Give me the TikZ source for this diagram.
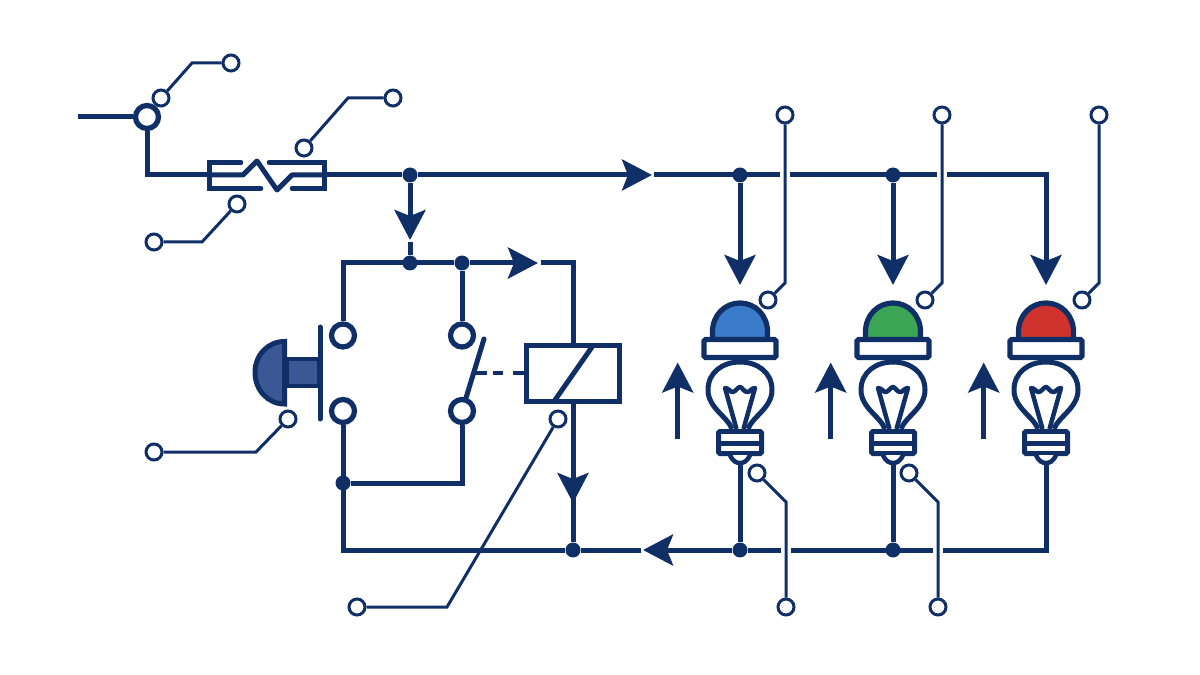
\documentclass[tikz,border=0pt]{standalone}
\usepackage{tikz}
\usetikzlibrary{arrows.meta}

\definecolor{navy}{HTML}{0F2F66}
\definecolor{knob}{HTML}{3A5796}
\definecolor{domeblue}{HTML}{3A7BCA}
\definecolor{domegreen}{HTML}{3AA655}
\definecolor{domered}{HTML}{D0332D}

\tikzset{
    wire/.style={navy, line width=0.1cm},
    leader/.style={navy, line width=0.06cm},
    flow/.style={wire, -{Stealth[length=0.6cm, width=0.62cm, inset=0.12cm]}},
    term/.style={circle, draw=navy, fill=white, line width=0.06cm, inner sep=0, minimum size=0.32cm},
    contact/.style={circle, draw=navy, fill=white, line width=0.105cm, inner sep=0, minimum size=0.46cm},
    dot/.style={circle, fill=navy, inner sep=0, minimum size=0.3cm},
    lamp/.pic={
        % dome and collar
        \draw[navy, line width=0.105cm, fill=#1] (-27.5,38) -- (-27.5,32) .. controls (-27.5,15) and (-15,3) .. (0,3)
            .. controls (15,3) and (27.5,15) .. (27.5,32) -- (27.5,38);
        \draw[navy, line width=0.105cm, fill=white, rounded corners=0.03cm] (-36,39.5) rectangle (36,57.5);
        % glass
        \draw[navy, line width=0.1cm, fill=white] (-8,129) .. controls (-12,117) and (-32,108) .. (-32,90)
            .. controls (-32,72) and (-17,62) .. (0,62) .. controls (17,62) and (32,72) .. (32,90)
            .. controls (32,108) and (12,117) .. (8,129);
        \draw[navy, line width=0.09cm, line join=round] (-3.5,129) -- (-15,88) .. controls (-11,88) and (-9,93) .. (-7,92)
            .. controls (-4,91) and (-2,87) .. (0,87) .. controls (2,87) and (4,92) .. (7,92)
            .. controls (9,93) and (11,88) .. (15,88) -- (3.5,129);
        % screw base
        \draw[navy, line width=0.1cm, fill=white, rounded corners=0.03cm] (-21.5,131.5) rectangle (21.5,153.5);
        \draw[navy, line width=0.1cm] (-21.5,143) -- (21.5,143);
        \draw[navy, line width=0.09cm, fill=white] (-10,155) .. controls (-7,162) and (-3,163) .. (0,163)
            .. controls (3,163) and (7,162) .. (10,155);
        % arrow next to the lamp
        \coordinate (-from) at (-62.3,139);
        \coordinate (-to) at (-62.3,62.5);
        \draw[flow] (-from) -- (-to);
        \coordinate (-in) at (0,-15);
        \coordinate (-out) at (0,163);
    }
}

\begin{document}
\begin{tikzpicture}[x=0.02cm, y=-0.02cm]
    \useasboundingbox (0,0) rectangle (1200,675);

    % Feed and fuse
    \coordinate (feed) at (78,117);
    \node[contact] (ring) at (147,117) {};
    \coordinate (fuseL) at (207,175);
    \coordinate (fuseR) at (327,175);
    \draw[wire] (feed) -- (ring);
    \draw[wire] (ring) |- (fuseL);
    \draw[wire, line join=round] (fuseL) -- (243,175) -- (257,161) -- (277,190) -- (292,175) -- (fuseR);
    \draw[navy, line width=0.09cm, line cap=round] (241,162.5) -- (209.5,162.5) -- (209.5,188.5) -- (261,188.5);
    \draw[navy, line width=0.09cm, line cap=round] (269,162.5) -- (324.5,162.5) -- (324.5,188.5) -- (292,188.5);

    % Top rail
    \node[dot] (railA) at (410,175) {};
    \node[dot] (railB) at (740,175) {};
    \node[dot] (railC) at (893,175) {};
    \coordinate (tipTop) at (652,175);
    \coordinate (gapA) at (654,175);
    \coordinate (gapB) at (780,175);
    \coordinate (gapC) at (790,175);
    \coordinate (gapD) at (937,175);
    \coordinate (gapE) at (947,175);
    \coordinate (railEnd) at (1046,175);
    \draw[wire] (fuseR) -- (railA);
    \draw[flow] (railA) -- (tipTop);
    \draw[wire] (gapA) -- (gapB);
    \draw[wire] (gapC) -- (gapD);

    % Lamps
    \pic (lampB) at (740,300) {lamp=domeblue};
    \pic (lampG) at (893,300) {lamp=domegreen};
    \pic (lampR) at (1046,300) {lamp=domered};
    \draw[flow] (railB) -- (lampB-in);
    \draw[flow] (railC) -- (lampG-in);
    \draw[flow] (gapE) -- (railEnd) -- (lampR-in);

    % Branch down to the control circuit
    \node[dot] (ctlA) at (410,263) {};
    \node[dot] (ctlB) at (462,263) {};
    \coordinate (ctlL) at (343,263);
    \coordinate (tipDown) at (410,240);
    \coordinate (stubDown) at (410,242);
    \coordinate (tipCtl) at (538,263);
    \coordinate (ctlR) at (541,263);
    \draw[flow] (railA) -- (tipDown);
    \draw[wire] (stubDown) -- (ctlA);
    \draw[flow] (ctlB) -- (tipCtl);

    % Push button
    \node[contact] (btnA) at (343,335.5) {};
    \node[contact] (btnB) at (343,411) {};
    \draw[fill=knob, draw=navy, line width=0.08cm] (287,359) rectangle (319,386);
    \draw[fill=knob, draw=navy, line width=0.1cm] (284.5,341.5) .. controls (268,341.5) and (255,355) .. (255,372.5)
        .. controls (255,390) and (268,404) .. (284.5,404) -- cycle;
    \draw[wire, line cap=round] (320,327) -- (320,419);

    % Relay contact and coil
    \node[contact] (relA) at (462,335.5) {};
    \node[contact] (relB) at (462,411) {};
    \node[draw=navy, line width=0.1cm, fill=white, inner sep=0, minimum width=1.88cm, minimum height=1.14cm] (coil) at (573,373.5) {};
    \draw[wire] (592,347) -- (555,400);
    \draw[wire, line cap=round] (relB) -- (484,339);
    \coordinate (link) at (475,373.5);
    \draw[navy, line width=0.08cm, dash pattern=on 0.24cm off 0.12cm on 0.2cm off 0.2cm on 0.24cm] (link) -- (coil.west);

    % Control circuit wires
    \node[dot] (retA) at (343,483) {};
    \node[dot] (retB) at (573,550) {};
    \node[dot] (retC) at (740,550) {};
    \node[dot] (retD) at (893,550) {};
    \coordinate (botL) at (343,550);
    \coordinate (tipCoil) at (573,503);
    \coordinate (tipBot) at (643,550);
    \coordinate (stubBot) at (641,550);
    \coordinate (gapF) at (781,550);
    \coordinate (gapG) at (791,550);
    \coordinate (gapH) at (933,550);
    \coordinate (gapI) at (943,550);
    \coordinate (botR) at (1046,550);
    \draw[wire] (btnA) -- (ctlL) -- (ctlB);
    \draw[wire] (ctlB) -- (relA);
    \draw[wire] (btnB) -- (botL) -- (retB);
    \draw[wire] (retA) -| (relB);
    \draw[wire] (ctlR) -| (coil.north);
    \draw[wire] (coil.south) -- (retB);
    \draw[flow] (coil.south) -- (tipCoil);
    \draw[wire] (retB) -- (stubBot);
    \draw[flow] (retC) -- (tipBot);
    \draw[wire] (retC) -- (gapF);
    \draw[wire] (gapG) -- (gapH);
    \draw[wire] (gapI) -- (botR) -- (lampR-out);
    \draw[wire] (lampB-out) -- (retC);
    \draw[wire] (lampG-out) -- (retD);

    % Leader lines
    \node[term] (feedA) at (161,98) {};
    \node[term] (feedB) at (231,63) {};
    \draw[leader] (feedA) -- (192,63) -- (feedB);
    \node[term] (fuseA) at (304,148) {};
    \node[term] (fuseB) at (393,98) {};
    \draw[leader] (fuseA) -- (348,98) -- (fuseB);
    \node[term] (fuseC) at (237,204) {};
    \node[term] (fuseD) at (154,242) {};
    \draw[leader] (fuseC) -- (202,242) -- (fuseD);
    \node[term] (btnC) at (288,419) {};
    \node[term] (btnD) at (154,452) {};
    \draw[leader] (btnC) -- (256,452) -- (btnD);
    \node[term] (coilA) at (558,419) {};
    \node[term] (coilB) at (357,607) {};
    \draw[leader] (coilA) -- (447,607) -- (coilB);

    \node[term] (domeA) at (768,300) {};
    \node[term] (domeB) at (785,115) {};
    \draw[leader] (domeA) -- (785,283) -- (domeB);
    \node[term] (domeC) at (925,300) {};
    \node[term] (domeD) at (942,115) {};
    \draw[leader] (domeC) -- (942,283) -- (domeD);
    \node[term] (domeE) at (1082,300) {};
    \node[term] (domeF) at (1099,115) {};
    \draw[leader] (domeE) -- (1099,283) -- (domeF);

    \node[term] (baseA) at (757,473) {};
    \node[term] (baseB) at (786,607) {};
    \draw[leader] (baseA) -- (786,502) -- (baseB);
    \node[term] (baseC) at (909,473) {};
    \node[term] (baseD) at (938,607) {};
    \draw[leader] (baseC) -- (938,502) -- (baseD);
\end{tikzpicture}
\end{document}
